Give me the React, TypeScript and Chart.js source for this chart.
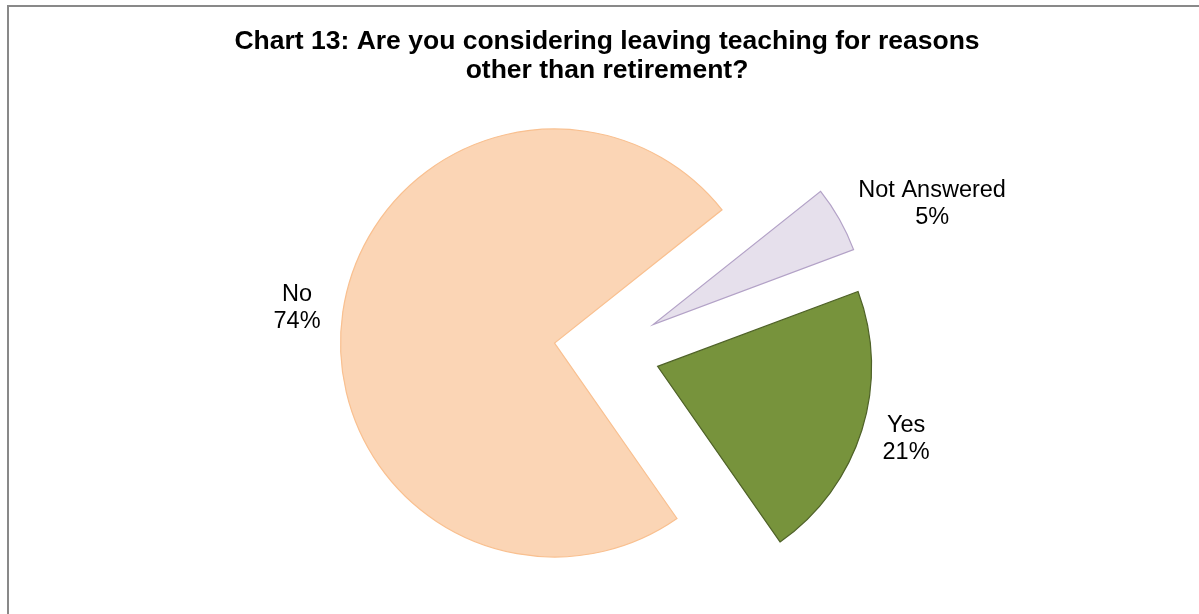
import { useEffect, useRef } from 'react';
import { Chart, ArcElement, PieController, registerables } from 'chart.js';

// ---------- data ----------
const categories: string[] = ['Yes', 'No', 'Not Answered'];
const seriesValues: number[] = [21, 74, 5];
const sliceFills: string[] = ['#77933C', '#FBD5B5', '#E6E0EC'];
const sliceBorders: string[] = ['#4F6228', '#F9C090', '#B3A2C7'];
const titleLines: string[] = [
  'Chart 13: Are you considering leaving teaching for reasons',
  'other than retirement?',
];

const FONT = '"Liberation Sans", Arial, Helvetica, sans-serif';

// Arc that is pushed out along its bisector by `offset` px (Excel-style explosion)
class ExplodedArc extends ArcElement {
  static id = 'explodedArc';
  draw(ctx: CanvasRenderingContext2D) {
    const opts: any = (this as any).options;
    const explode = (opts && opts.offset) || 0;
    if (!explode) {
      super.draw(ctx);
      return;
    }
    const self: any = this;
    const mid = (self.startAngle + self.endAngle) / 2;
    ctx.save();
    ctx.translate(Math.cos(mid) * explode, Math.sin(mid) * explode);
    self.options = Object.assign({}, opts, { offset: 0 });
    super.draw(ctx);
    self.options = opts;
    ctx.restore();
  }
}

class ExplodedPie extends PieController {
  static id = 'explodedPie';
  static defaults = { ...(PieController as any).defaults, dataElementType: 'explodedArc' };
}

Chart.register(...registerables, ExplodedArc as any, ExplodedPie as any);

const sliceLabelPlugin = {
  id: 'sliceLabels',
  afterDatasetsDraw(chart: any) {
    const meta = chart.getDatasetMeta(0);
    const data: number[] = chart.data.datasets[0].data;
    const total = data.reduce((a, b) => a + b, 0);
    const ctx: CanvasRenderingContext2D = chart.ctx;
    const lh = 27;
    ctx.save();
    ctx.font = `23.5px ${FONT}`;
    ctx.fillStyle = '#000000';
    ctx.textAlign = 'center';
    ctx.textBaseline = 'middle';
    meta.data.forEach((arc: any, i: number) => {
      const { x, y, startAngle, endAngle, outerRadius } = arc.getProps(
        ['x', 'y', 'startAngle', 'endAngle', 'outerRadius'],
        true
      );
      const off = (arc.options && arc.options.offset) || 0;
      const mid = (startAngle + endAngle) / 2;
      const c = Math.cos(mid);
      const s = Math.sin(mid);
      const lines = [String(chart.data.labels[i]), Math.round((data[i] / total) * 100) + '%'];
      const w = Math.max(...lines.map((l) => ctx.measureText(l).width));
      const h = lines.length * lh;
      const d = off + outerRadius + 18;
      const bx = x + c * d + c * w * 0.6;
      const by = y + s * d + (s * h) / 4;
      lines.forEach((l, k) => ctx.fillText(l, bx, by - h / 2 + lh / 2 + k * lh));
    });
    ctx.restore();
  },
};

export default function App() {
  const ref = useRef<HTMLCanvasElement | null>(null);

  useEffect(() => {
    if (!ref.current) return;
    const chart = new Chart(ref.current, {
      type: 'explodedPie' as any,
      data: {
        labels: categories,
        datasets: [
          {
            data: seriesValues,
            backgroundColor: sliceFills,
            borderColor: sliceBorders,
            borderWidth: 1.2,
            borderJoinStyle: 'miter',
            offset: 53,
            hoverOffset: 0,
          } as any,
        ],
      },
      options: {
        animation: false,
        responsive: false,
        maintainAspectRatio: false,
        rotation: 69.5,
        radius: 214,
        events: [],
        layout: { padding: { left: 15, right: 0, top: 0, bottom: 8 } },
        plugins: {
          legend: { display: false },
          tooltip: { enabled: false },
          title: {
            display: true,
            text: titleLines,
            color: '#000000',
            font: { family: FONT, size: 26.5, weight: 'bold', lineHeight: 1.1 },
            padding: { top: 27, bottom: 10 },
          },
        },
      } as any,
      plugins: [sliceLabelPlugin],
    });
    return () => chart.destroy();
  }, []);

  return (
    <>
      <div
        style={{
          position: 'fixed',
          left: 7,
          top: 5,
          width: 1192,
          height: 609,
          boxSizing: 'border-box',
          borderTop: '2px solid #898989',
          borderLeft: '2px solid #898989',
          background: '#ffffff',
        }}
      />
      <canvas
        ref={ref}
        width={1199}
        height={614}
        style={{ position: 'fixed', left: 0, top: 0, width: 1199, height: 614 }}
      />
    </>
  );
}
